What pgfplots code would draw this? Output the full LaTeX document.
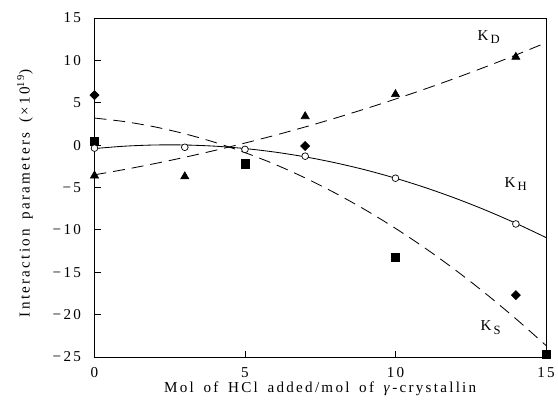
\documentclass[border=0pt]{standalone}
\usepackage{fontspec}
\setmainfont{Liberation Serif}[LetterSpace=15, WordSpace=1.6]
\usepackage{pgfplots}
\pgfplotsset{compat=1.18}
\begin{document}
\begin{tikzpicture}[font=\fontsize{10.8pt}{13pt}\selectfont]
\begin{axis}[
  at={(0,0)}, anchor=south west,
  scale only axis, width=322.5pt, height=242.1pt,
  xmin=0, xmax=15, ymin=-25, ymax=15,
  clip=false,
  axis line style={line width=0.6pt},
  tick style={line width=0.6pt, black},
  tick align=inside, xtick pos=bottom, ytick pos=left,
  major tick length=4.5pt,
  xtick={0,5,10,15}, xticklabels={0,5,10,15},
  ytick={-25,-20,-15,-10,-5,0,5,10,15},
  yticklabels={−25,−20,−15,−10,−5,0,5,10,15},
  xticklabel style={anchor=base, yshift=-15pt, inner sep=0pt},
  yticklabel style={anchor=east, inner sep=0pt, xshift=-9.5pt},
  xlabel={Mol of HCl added/mol of \textit{γ}-crystallin},
  x label style={at={(axis description cs:0.5,0)}, anchor=base, yshift=-25.7pt},
  ylabel={Interaction parameters (×10\textsuperscript{19})},
  y label style={at={(axis description cs:-0.154,0.483)}, anchor=center},
]
% fitted curves
\addplot[black, line width=0.6pt, smooth, mark=none] coordinates {
(0,-0.4) (1,-0.12) (2,0.02) (3,0.02) (4,-0.12) (5,-0.4) (6,-0.82) (7,-1.38)
(8,-2.08) (9,-2.92) (10,-3.9) (11,-5.02) (12,-6.28) (13,-7.68) (14,-9.22) (15,-10.9)};
\addplot[black, line width=0.6pt, smooth, mark=none, dash pattern=on 8.5pt off 5pt] coordinates {
(0,-3.5) (1,-2.87) (2,-2.18) (3,-1.43) (4,-0.62) (5,0.25) (6,1.17) (7,2.15)
(8,3.19) (9,4.29) (10,5.44) (11,6.65) (12,7.92) (13,9.25) (14,10.64) (15,12.09)};
\addplot[black, line width=0.6pt, smooth, mark=none, dash pattern=on 8.5pt off 5pt] coordinates {
(0,3.2) (1,2.78) (2,2.16) (3,1.34) (4,0.33) (5,-0.88) (6,-2.27) (7,-3.87)
(8,-5.66) (9,-7.64) (10,-9.82) (11,-12.19) (12,-14.76) (13,-17.53) (14,-20.49) (15,-23.64)};
% data points
\addplot[only marks, mark=triangle*, mark size=3.4pt, mark options={fill=black, draw=black}] coordinates {
(0,-3.6) (3,-3.7) (7,3.4) (10,6.0) (14,10.4)};
\addplot[only marks, mark=square*, mark size=2.9pt, mark options={fill=black, draw=black}] coordinates {
(0,0.5) (5,-2.2) (10,-13.2) (15,-24.7)};
\addplot[only marks, mark=square*, mark size=2.3pt, mark options={fill=black, draw=black, rotate=45}] coordinates {
(0,5.9) (7,-0.1) (14,-17.7)};
\addplot[only marks, mark=*, mark size=2.4pt, mark options={fill=white, draw=black, line width=0.5pt}] coordinates {
(0,-0.35) (3,-0.25) (5,-0.5) (7,-1.3) (10,-3.9) (14,-9.3)};
\node[anchor=base west, inner sep=0pt] at (axis cs:12.72,12.4) {K\hspace{1.5pt}\raisebox{-0.55ex}{\small D}};
\node[anchor=base west, inner sep=0pt] at (axis cs:13.62,-4.94) {K\hspace{1.5pt}\raisebox{-0.55ex}{\small H}};
\node[anchor=base west, inner sep=0pt] at (axis cs:12.82,-21.93) {K\hspace{1.5pt}\raisebox{-0.55ex}{\small S}};
\end{axis}
\pgfresetboundingbox
\path (-67.5pt,-42.9pt) rectangle (331.1pt,255pt);
\end{tikzpicture}
\end{document}
